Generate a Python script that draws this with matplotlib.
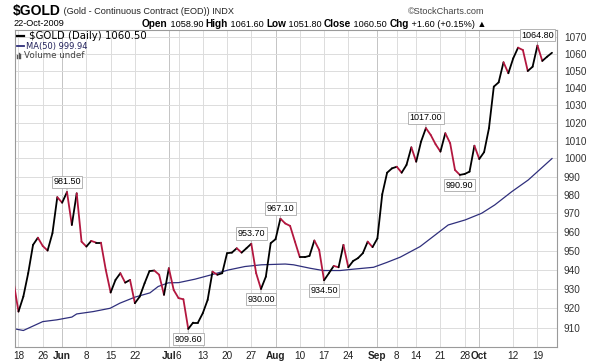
import numpy as np
import matplotlib
matplotlib.use("Agg")
import matplotlib.pyplot as plt
from matplotlib.collections import LineCollection
from matplotlib.lines import Line2D

plt.rcParams['font.family'] = ['Liberation Sans', 'DejaVu Sans']

# daily closes, trading day index -1 (15-May-2009) .. 110 (22-Oct-2009)
closes = [933.4, 918.4, 926.1, 938.2, 953.1, 956.9, 952.5, 950.1, 959.3, 978.7,
          975.7, 981.5, 963.7, 980.8, 954.8, 952.2, 955.2, 954.3, 954.3, 939.9,
          928.2, 934.7, 938.2, 933.3, 934.7, 922.7, 926.1, 933.0, 939.3, 939.6,
          937.4, 927.0, 940.8, 929.5, 925.3, 924.7, 909.6, 912.8, 912.8, 917.6,
          924.4, 939.0, 937.4, 938.2, 948.7, 949.0, 951.3, 949.0, 951.3, 953.7,
          938.2, 930.0, 936.4, 954.0, 956.1, 967.1, 964.5, 963.2, 954.8, 946.6,
          946.6, 947.3, 955.4, 950.4, 934.5, 938.2, 942.0, 941.3, 953.1, 941.3,
          944.6, 946.1, 948.7, 954.8, 951.9, 956.5, 980.3, 992.1, 994.5, 995.4,
          992.1, 996.4, 1006.2, 998.2, 1009.4, 1017.0, 1013.1, 1007.9, 1003.8, 1014.1,
          1008.5, 993.6, 990.9, 991.4, 992.7, 1007.1, 999.7, 1003.5, 1016.9, 1040.7,
          1043.2, 1054.9, 1048.5, 1057.2, 1063.5, 1062.1, 1049.8, 1052.3, 1064.8, 1055.7,
          1058.2, 1060.5]
day_idx = list(range(-1, 111))

# 50-day moving average, read at a few points
ma_idx = [-0.7, 1, 5, 7.9, 11, 12, 15.4, 18.9, 20.9, 24, 27.1, 28.8, 30.9, 33, 36.4,
          39.8, 43.3, 46.7, 50.1, 55, 56.7, 60.1, 62.8, 66.3, 69, 73.2, 75.9, 78.7,
          82.8, 88.6, 92.1, 95.5, 98.2, 101.7, 105.1, 110]
ma_vals = [909.6, 908.8, 913.3, 914.2, 915.6, 917.2, 918.4, 920.1, 922.7, 925.8, 928.0,
           931.3, 933.2, 933.3, 935.1, 937.4, 939.9, 941.7, 942.6, 943.0, 942.6, 940.8,
           939.6, 939.6, 940.3, 941.3, 943.8, 946.6, 952.2, 963.7, 966.4, 970.0, 974.5,
           981.7, 988.1, 999.94]

tick_idx = [0, 5, 9, 14, 19, 24, 31, 33, 38, 43, 48, 53, 58, 63, 68, 74, 78, 82, 87,
            92, 95, 102, 107]
tick_labels = ['18', '26', 'Jun', '8', '15', '22', 'Jul', '6', '13', '20', '27', 'Aug',
               '10', '17', '24', 'Sep', '8', '14', '21', '28', 'Oct', '12', '19']
month_ticks = ['Jun', 'Jul', 'Aug', 'Sep', 'Oct']

y_ticks = list(range(910, 1071, 10))

# highlighted highs (+1) and lows (-1)
note_idx = [10, 35, 48, 50, 54, 63, 84, 91, 107]
note_vals = [981.50, 909.60, 953.70, 930.00, 967.10, 934.50, 1017.00, 990.90, 1064.80]
note_side = [1, -1, 1, -1, 1, -1, 1, -1, 1]

UP = '#000000'
DOWN = '#b3173f'
MA_COL = '#2f2f7c'
GRID = '#dcdcdc'

W, H = 600, 364
fig = plt.figure(figsize=(6, 3.64), dpi=100)
ax = fig.add_axes([15 / W, 1 - 347 / H, 542 / W, 317 / H])

ax.set_yscale('log')
ax.set_ylim(900.5, 1074)
ax.set_xlim(-0.72, 111.03)

# grid
for t, lab in zip(tick_idx, tick_labels):
    ax.axvline(t, color='#c4c4c4' if lab in month_ticks else GRID, lw=0.7, zorder=0)
for v in y_ticks:
    ax.axhline(v, color=GRID, lw=0.7, zorder=0)

# price line, red on down days
pts = np.column_stack([day_idx, closes])
segs = np.stack([pts[:-1], pts[1:]], axis=1)
cols = [DOWN if b < a else UP for a, b in zip(closes[:-1], closes[1:])]
ax.add_collection(LineCollection(segs, colors=cols, linewidths=1.3, zorder=3,
                                 capstyle='round', joinstyle='round'))

ax.plot(ma_idx, ma_vals, color=MA_COL, lw=0.9, zorder=2)

for i, v, s in zip(note_idx, note_vals, note_side):
    ax.annotate(f'{v:.2f}', xy=(i, v), xytext=(0, 7.3 * s), textcoords='offset points',
                ha='center', va='center', fontsize=6.5, zorder=5,
                bbox=dict(boxstyle='square,pad=0.18', fc='white', ec='#a8a8a8', lw=0.6),
                arrowprops=dict(arrowstyle='-', color='#a8a8a8', lw=0.6,
                                shrinkA=0, shrinkB=1))

ax.yaxis.tick_right()
ax.set_yticks(y_ticks)
ax.set_yticklabels([str(v) for v in y_ticks])
ax.yaxis.set_minor_locator(matplotlib.ticker.NullLocator())
ax.set_xticks(tick_idx)
ax.set_xticklabels(tick_labels)
for lab in ax.get_xticklabels():
    if lab.get_text() in month_ticks:
        lab.set_fontweight('bold')
ax.tick_params(axis='both', length=0, labelsize=7.2, colors='#222222')
ax.tick_params(axis='y', pad=5, labelcolor='#333333')
ax.tick_params(axis='x', pad=3)
for sp in ax.spines.values():
    sp.set_color('#9a9a9a')
    sp.set_linewidth(0.8)


def px(x, y):
    return x / W, 1 - y / H


# header
t = fig.text(*px(13, 11), '$GOLD', fontsize=10, weight='bold', va='center')
ax.annotate(' (Gold - Continuous Contract (EOD)) INDX', xy=(1, 0.12), xycoords=t,
            va='bottom', fontsize=6.6, color='#222222')
fig.text(*px(485, 11), '\u00a9StockCharts.com', fontsize=6.6, ha='right', va='center',
         color='#444444')
fig.text(*px(13, 24), '22-Oct-2009', fontsize=6.6, va='center')
parts = [('Open', 'bold'), (' 1058.90 ', 'normal'), ('High', 'bold'),
         (' 1061.60 ', 'normal'), ('Low', 'bold'), (' 1051.80 ', 'normal'),
         ('Close', 'bold'), (' 1060.50 ', 'normal'), ('Chg', 'bold'),
         (' +1.60 (+0.15%) \u25b2', 'normal')]
t = fig.text(*px(142, 24), parts[0][0], fontsize=7.2, weight='bold', va='center')
for s, w in parts[1:]:
    t = ax.annotate(s, xy=(1, 0), xycoords=t, va='bottom',
                    fontsize=7.2 if w == 'bold' else 6.6, weight=w)

# legend
fig.add_artist(Line2D([17 / W, 24 / W], [1 - 36 / H] * 2, color=UP, lw=1.6))
fig.text(*px(29, 36), '$GOLD (Daily) 1060.50', fontsize=7.3, va='center',
         family='DejaVu Sans')
fig.add_artist(Line2D([17 / W, 24 / W], [1 - 46 / H] * 2, color=MA_COL, lw=1.3))
fig.text(*px(26, 46), 'MA(50) 999.94', fontsize=6, va='center', color='#20205a',
         family='DejaVu Sans')
for k, hgt in enumerate([3, 5, 4]):
    fig.add_artist(Line2D([(17 + 1.7 * k) / W] * 2, [1 - 58 / H, 1 - (58 - hgt) / H],
                          color='#555555', lw=1))
fig.text(*px(23.5, 55), 'Volume undef', fontsize=6.3, va='center', color='#444444',
         family='DejaVu Sans')

fig.savefig('out.png', dpi=100, facecolor='white')
